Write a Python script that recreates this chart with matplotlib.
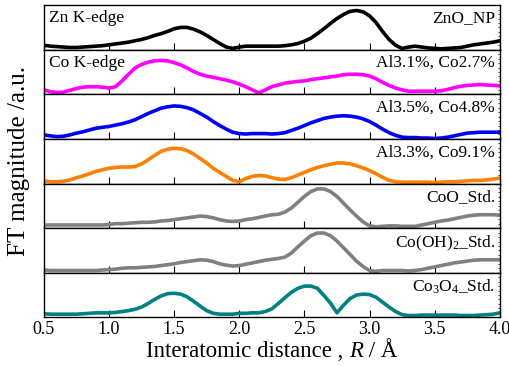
import numpy as np
import matplotlib
matplotlib.use('Agg')
from matplotlib import pyplot as plt
from matplotlib.ticker import MultipleLocator
from matplotlib.offsetbox import TextArea, HPacker, AnchoredOffsetbox

plt.rcParams['font.family'] = 'Liberation Serif'
plt.rcParams['mathtext.fontset'] = 'custom'
plt.rcParams['mathtext.rm'] = 'Liberation Serif'
plt.rcParams['mathtext.it'] = 'Liberation Serif:italic'

# R grid (Angstrom), 0.5 .. 4.0 step 0.05
r = np.round(np.arange(0.5, 4.001, 0.05), 2)

zno_np = [0.10, 0.08, 0.07, 0.06, 0.05, 0.05, 0.06, 0.07, 0.08, 0.09,
          0.11, 0.13, 0.15, 0.17, 0.20, 0.23, 0.27, 0.32, 0.36, 0.41,
          0.47, 0.50, 0.50, 0.46, 0.40, 0.32, 0.23, 0.14, 0.06, 0.03,
          0.06, 0.08, 0.08, 0.08, 0.08, 0.08, 0.08, 0.09, 0.11, 0.14,
          0.19, 0.26, 0.36, 0.47, 0.59, 0.70, 0.79, 0.86, 0.88, 0.85,
          0.76, 0.61, 0.41, 0.23, 0.10, 0.03, 0.06, 0.08, 0.06, 0.04,
          0.03, 0.02, 0.03, 0.04, 0.05, 0.08, 0.11, 0.13, 0.15, 0.17, 0.20]

al31_co27 = [0.10, 0.06, 0.04, 0.05, 0.09, 0.13, 0.16, 0.17, 0.17, 0.16,
             0.14, 0.17, 0.30, 0.45, 0.59, 0.67, 0.72, 0.75, 0.76, 0.75,
             0.71, 0.66, 0.59, 0.51, 0.45, 0.41, 0.38, 0.35, 0.32, 0.28,
             0.23, 0.17, 0.10, 0.03, 0.10, 0.17, 0.21, 0.25, 0.27, 0.29,
             0.30, 0.33, 0.35, 0.37, 0.39, 0.41, 0.44, 0.45, 0.45, 0.44,
             0.41, 0.35, 0.27, 0.20, 0.14, 0.10, 0.07, 0.07, 0.07, 0.07,
             0.07, 0.08, 0.11, 0.15, 0.18, 0.20, 0.21, 0.22, 0.21, 0.20, 0.19]

al35_co48 = [0.09, 0.07, 0.05, 0.06, 0.09, 0.13, 0.16, 0.20, 0.24, 0.26,
             0.28, 0.31, 0.34, 0.38, 0.43, 0.50, 0.57, 0.63, 0.69, 0.72,
             0.74, 0.73, 0.70, 0.65, 0.57, 0.49, 0.39, 0.30, 0.22, 0.15,
             0.12, 0.11, 0.12, 0.12, 0.12, 0.11, 0.12, 0.14, 0.19, 0.24,
             0.30, 0.36, 0.41, 0.46, 0.49, 0.51, 0.52, 0.51, 0.49, 0.45,
             0.39, 0.31, 0.22, 0.14, 0.08, 0.04, 0.03, 0.03, 0.02, 0.02,
             0.01, 0.02, 0.04, 0.07, 0.10, 0.13, 0.14, 0.15, 0.15, 0.15, 0.15]

al33_co91 = [0.06, 0.04, 0.04, 0.05, 0.08, 0.13, 0.17, 0.22, 0.27, 0.31,
             0.34, 0.36, 0.37, 0.37, 0.38, 0.44, 0.53, 0.63, 0.72, 0.77,
             0.79, 0.78, 0.74, 0.66, 0.56, 0.46, 0.34, 0.25, 0.16, 0.07,
             0.04, 0.11, 0.16, 0.18, 0.17, 0.13, 0.10, 0.09, 0.13, 0.19,
             0.25, 0.31, 0.36, 0.40, 0.43, 0.46, 0.46, 0.44, 0.40, 0.35,
             0.29, 0.22, 0.14, 0.07, 0.04, 0.03, 0.03, 0.03, 0.03, 0.03,
             0.02, 0.03, 0.04, 0.04, 0.05, 0.06, 0.07, 0.07, 0.08, 0.10, 0.12]

coo_std = [0.07, 0.07, 0.07, 0.07, 0.07, 0.07, 0.07, 0.07, 0.07, 0.07,
           0.08, 0.10, 0.10, 0.11, 0.12, 0.13, 0.13, 0.14, 0.16, 0.17,
           0.19, 0.21, 0.23, 0.25, 0.27, 0.26, 0.23, 0.19, 0.16, 0.15,
           0.16, 0.19, 0.21, 0.24, 0.27, 0.30, 0.31, 0.36, 0.45, 0.58,
           0.71, 0.82, 0.88, 0.88, 0.82, 0.71, 0.56, 0.41, 0.27, 0.14,
           0.05, 0.03, 0.04, 0.05, 0.05, 0.04, 0.04, 0.04, 0.07, 0.10,
           0.13, 0.16, 0.18, 0.21, 0.24, 0.27, 0.29, 0.30, 0.30, 0.30, 0.29]

coOH2_std = [0.06, 0.05, 0.05, 0.05, 0.05, 0.05, 0.05, 0.05, 0.05, 0.06,
             0.07, 0.08, 0.10, 0.11, 0.11, 0.12, 0.13, 0.14, 0.16, 0.18,
             0.20, 0.23, 0.25, 0.27, 0.29, 0.28, 0.25, 0.20, 0.17, 0.15,
             0.16, 0.19, 0.22, 0.25, 0.28, 0.30, 0.32, 0.35, 0.44, 0.58,
             0.71, 0.83, 0.89, 0.89, 0.83, 0.71, 0.56, 0.41, 0.26, 0.14,
             0.05, 0.03, 0.05, 0.05, 0.05, 0.05, 0.04, 0.05, 0.07, 0.10,
             0.13, 0.16, 0.19, 0.22, 0.24, 0.26, 0.28, 0.29, 0.29, 0.29, 0.29]

co3o4_std = [0.08, 0.07, 0.07, 0.07, 0.07, 0.07, 0.08, 0.09, 0.10, 0.10,
             0.10, 0.11, 0.13, 0.15, 0.18, 0.23, 0.31, 0.40, 0.48, 0.53,
             0.54, 0.52, 0.46, 0.36, 0.25, 0.15, 0.09, 0.07, 0.07, 0.07,
             0.09, 0.09, 0.10, 0.10, 0.13, 0.19, 0.31, 0.44, 0.56, 0.65,
             0.70, 0.70, 0.65, 0.49, 0.32, 0.10, 0.27, 0.42, 0.50, 0.52,
             0.51, 0.45, 0.34, 0.23, 0.13, 0.06, 0.04, 0.04, 0.05, 0.05,
             0.05, 0.05, 0.05, 0.05, 0.04, 0.04, 0.04, 0.05, 0.06, 0.07, 0.10]

series = [zno_np, al31_co27, al35_co48, al33_co91, coo_std, coOH2_std, co3o4_std]
labels = ['ZnO_NP', 'Al3.1%, Co2.7%', 'Al3.5%, Co4.8%', 'Al3.3%, Co9.1%',
          'CoO_Std.', r'Co(OH)$_2$_Std.', r'Co$_3$O$_4$_Std.']
colors = ['black', '#ff00ff', '#0000ff', '#ff8000', '#808080', '#808080', '#008080']
edges = ['Zn K-edge', 'Co K-edge', None, None, None, None, None]

fig, axes = plt.subplots(7, 1, sharex=True, figsize=(5.1, 3.66), dpi=100)
fig.subplots_adjust(left=0.086, right=0.980, top=0.986, bottom=0.133, hspace=0)

for ax, y, lab, c, edge in zip(axes, series, labels, colors, edges):
    ax.plot(r, y, color=c, lw=2.6, solid_capstyle='round')
    ax.set_xlim(0.5, 4.0)
    ax.set_ylim(0, 1)
    ax.xaxis.set_major_locator(MultipleLocator(0.5))
    ax.xaxis.set_minor_locator(MultipleLocator(0.25))
    ax.yaxis.set_minor_locator(MultipleLocator(0.1))
    ax.tick_params(axis='x', which='both', direction='in', top=False, labelsize=13)
    ax.tick_params(axis='x', which='major', length=5, width=0.8, pad=3)
    ax.tick_params(axis='x', which='minor', length=0)
    ax.tick_params(axis='y', which='both', left=False, right=True, labelleft=False,
                   direction='in', length=1.2, width=0.5)
    for s in ax.spines.values():
        s.set_linewidth(1.0)
    ax.text(0.99, 0.88, lab, transform=ax.transAxes, ha='right', va='top', fontsize=12.5)
    if edge:
        ax.text(0.012, 0.88, edge, transform=ax.transAxes, ha='left', va='top', fontsize=12.5)

axes[-1].set_xticks(np.arange(0.5, 4.01, 0.5))
axes[-1].set_xticklabels(['%.1f' % v for v in np.arange(0.5, 4.01, 0.5)])

# x label built from pieces so that only R is italic
parts = [TextArea('Interatomic distance , ', textprops=dict(fontsize=16.5)),
         TextArea('R', textprops=dict(fontsize=16.5, style='italic')),
         TextArea(' / Å', textprops=dict(fontsize=16.5))]
xlab = HPacker(children=parts, align='baseline', pad=0, sep=0)
box = AnchoredOffsetbox(loc='lower center', child=xlab, frameon=False, pad=0, borderpad=0,
                        bbox_to_anchor=(0.533, 0.012), bbox_transform=fig.transFigure)
fig.add_artist(box)
fig.text(0.037, 0.56, 'FT magnitude /a.u.', rotation=90, ha='center', va='center', fontsize=18)

plt.savefig('out.png', dpi=100)
